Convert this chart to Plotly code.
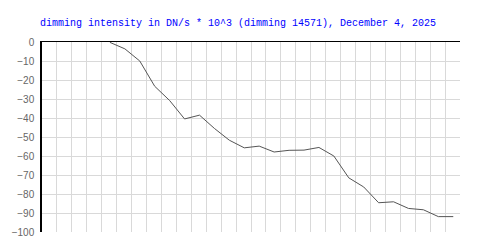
import plotly.graph_objects as go

x_vals = [4.55, 5.55, 6.55, 7.55, 8.55, 9.55, 10.55, 11.55, 12.55, 13.55, 14.55, 15.55,
          16.55, 17.55, 18.55, 19.55, 20.55, 21.55, 22.55, 23.55, 24.55, 25.55, 26.55, 27.55]
intensity = [-0.2, -3.6, -10.0, -23.3, -30.8, -40.5, -38.5, -45.5, -51.7, -55.7, -54.8, -57.9,
             -57.0, -56.9, -55.5, -60.0, -71.5, -76.3, -84.6, -84.1, -87.6, -88.3, -91.9, -91.9]
y_ticks = [0, -10, -20, -30, -40, -50, -60, -70, -80, -90, -100]
title_text = "dimming intensity in DN/s * 10^3 (dimming 14571), December 4, 2025"

fig = go.Figure()
fig.add_trace(go.Scatter(x=x_vals, y=intensity, mode="lines",
                         line=dict(color="#555555", width=1), hoverinfo="skip"))

fig.update_layout(
    width=500, height=250,
    margin=dict(l=40, r=40, t=42, b=14),
    paper_bgcolor="white", plot_bgcolor="white",
    showlegend=False,
    title=dict(text=title_text, x=40/500, xanchor="left", xref="container",
               y=1 - 22/250, yanchor="middle", yref="container",
               font=dict(family="Liberation Mono", size=10, color="#0000ff")),
)
fig.update_xaxes(range=[0, 28], dtick=1, tick0=0, showticklabels=False,
                 showgrid=True, gridcolor="#d9d9d9", gridwidth=1,
                 zeroline=False, showline=True, linecolor="black", linewidth=1,
                 side="top", ticks="")
fig.update_yaxes(range=[-100, 0], tickvals=y_ticks, showgrid=True,
                 gridcolor="#d9d9d9", gridwidth=1, zeroline=False,
                 showline=True, linecolor="black", linewidth=1.5,
                 ticks="", ticklabelstandoff=4,
                 tickfont=dict(family="Liberation Sans", size=10, color="#666666"))

fig.write_html("out.html")
